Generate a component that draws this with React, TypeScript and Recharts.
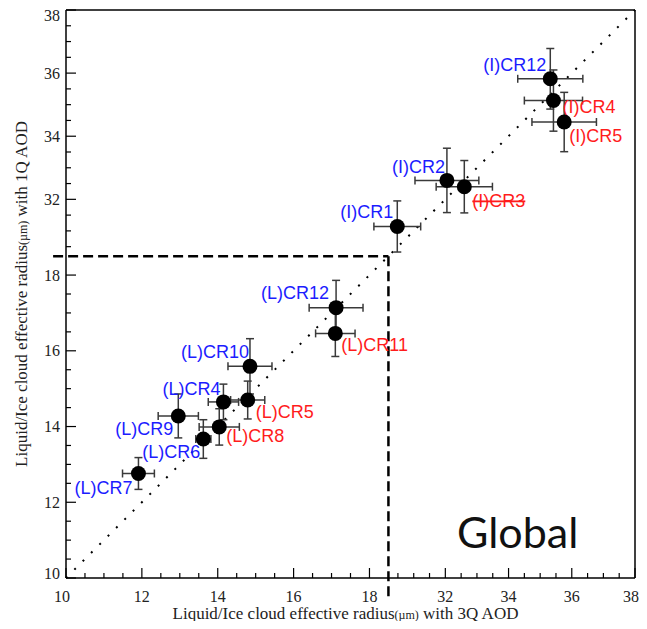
import React from 'react';
import { ScatterChart, Scatter, XAxis, YAxis, ErrorBar, ReferenceLine } from 'recharts';

// liquid cloud regimes (µm), 3Q AOD on x, 1Q AOD on y
const liquidNames = ['(L)CR4', '(L)CR5', '(L)CR6', '(L)CR7', '(L)CR8', '(L)CR9', '(L)CR10', '(L)CR11', '(L)CR12'];
const liquid3Q = [14.15, 14.79, 13.62, 11.91, 14.04, 12.96, 14.85, 17.1, 17.12];
const liquid1Q = [14.65, 14.7, 13.67, 12.76, 13.99, 14.28, 15.59, 16.46, 17.14];
const liquid3QErr = [0.4, 0.45, 0.2, 0.42, 0.53, 0.53, 0.58, 0.52, 0.71];
const liquid1QErr = [0.47, 0.5, 0.51, 0.42, 0.48, 0.58, 0.73, 0.61, 0.72];

// ice cloud regimes
const iceNames = ['(I)CR1', '(I)CR2', '(I)CR3', '(I)CR4', '(I)CR5', '(I)CR12'];
const ice3Q = [30.48, 32.05, 32.6, 35.42, 35.76, 35.32];
const ice1Q = [31.14, 32.6, 32.4, 35.13, 34.45, 35.82];
const ice3QErr = [0.74, 1.01, 0.89, 0.92, 1.02, 1.03];
const ice1QErr = [0.81, 1.02, 0.83, 0.97, 0.94, 0.96];

const majorTicks = [10, 12, 14, 16, 18, 32, 34, 36, 38];
const redLabels = ['(L)CR5', '(L)CR8', '(L)CR11', '(I)CR3', '(I)CR4', '(I)CR5'];
const struckLabels = ['(I)CR3'];

const BLUE = '#1c1cff';
const RED = '#ff1c1c';
const SERIF = '"Liberation Serif", "Times New Roman", serif';
const SANS = '"Liberation Sans", Arial, sans-serif';

// broken axis: liquid 10..18.5, then ice from 30.2 squeezed into the rest
const LIQ_TOP = 18.5;
const ICE_START = 30.2;
const ICE_SCALE = 6.5 / 7.8;
const toAxis = (v: number, ice: boolean) => (ice ? LIQ_TOP + (v - ICE_START) * ICE_SCALE : v);
const fromAxis = (u: number) => (u <= LIQ_TOP + 1e-6 ? u : ICE_START + (u - LIQ_TOP) / ICE_SCALE);
const DOMAIN: [number, number] = [10, toAxis(38, true)];

const TICKS: number[] = [];
for (let v = 10; v <= 18; v += 0.5) TICKS.push(v);
for (let v = 30.5; v <= 38; v += 0.5) TICKS.push(toAxis(v, true));

const points = [
  ...liquidNames.map((name, i) => ({
    name,
    x: liquid3Q[i],
    y: liquid1Q[i],
    ex: liquid3QErr[i],
    ey: liquid1QErr[i],
  })),
  ...iceNames.map((name, i) => ({
    name,
    x: toAxis(ice3Q[i], true),
    y: toAxis(ice1Q[i], true),
    ex: ice3QErr[i] * ICE_SCALE,
    ey: ice1QErr[i] * ICE_SCALE,
  })),
];

// label placement next to each dot: [dx, dy, anchor]
const LABEL_POS: Record<string, [number, number, 'start' | 'end']> = {
  '(I)CR12': [-4, -14, 'end'],
  '(I)CR4': [9, 6, 'start'],
  '(I)CR5': [5, 14, 'start'],
  '(I)CR2': [-2, -13, 'end'],
  '(I)CR3': [8, 14, 'start'],
  '(I)CR1': [-4, -14, 'end'],
  '(L)CR12': [-7, -15, 'end'],
  '(L)CR11': [6, 12, 'start'],
  '(L)CR10': [-1, -14, 'end'],
  '(L)CR4': [-3, -13, 'end'],
  '(L)CR5': [8, 12, 'start'],
  '(L)CR9': [-5, 13, 'end'],
  '(L)CR8': [7, 9, 'start'],
  '(L)CR6': [-3, 13, 'end'],
  '(L)CR7': [-6, 15, 'end'],
};

const makeTick = (side: 'bottom' | 'top' | 'left' | 'right') => (props: any) => {
  const { x, y, payload, index } = props;
  const v = Math.round(fromAxis(payload.value) * 2) / 2;
  const major = majorTicks.includes(v);
  const len = major ? 10 : 5;
  const last = index === TICKS.length - 1;
  const first = index === 0;
  if (side === 'bottom') {
    return (
      <g>
        <line x1={x} y1={y} x2={x} y2={y - len} stroke="#000" strokeWidth={1.2} />
        {major && (
          <text x={x + (first ? -4 : last ? -4 : 0)} y={y + 24} textAnchor="middle" fontFamily={SERIF} fontSize={16} fill="#222">
            {v}
          </text>
        )}
      </g>
    );
  }
  if (side === 'top') {
    return <line x1={x} y1={y} x2={x} y2={y + len} stroke="#000" strokeWidth={1.2} />;
  }
  if (side === 'right') {
    return <line x1={x} y1={y} x2={x - len} y2={y} stroke="#000" strokeWidth={1.2} />;
  }
  return (
    <g>
      <line x1={x} y1={y} x2={x + len} y2={y} stroke="#000" strokeWidth={1.2} />
      {major && (
        <text
          x={x - 6}
          y={y + (last ? 5 : first ? -5 : 0)}
          textAnchor="end"
          dominantBaseline="central"
          fontFamily={SERIF}
          fontSize={16}
          fill="#222"
        >
          {v}
        </text>
      )}
    </g>
  );
};

const renderPoint = (props: any) => {
  const { cx, cy, payload } = props;
  const [dx, dy, anchor] = LABEL_POS[payload.name];
  const red = redLabels.includes(payload.name);
  const struck = struckLabels.includes(payload.name);
  return (
    <g>
      <circle cx={cx} cy={cy} r={7.5} fill="#000" />
      <text
        x={cx + dx}
        y={cy + dy}
        textAnchor={anchor}
        dominantBaseline="central"
        fontFamily={SANS}
        fontSize={18}
        fill={red ? RED : BLUE}
        style={struck ? { textDecoration: 'line-through' } : undefined}
      >
        {payload.name}
      </text>
    </g>
  );
};

const XTitle = (props: any) => {
  const { viewBox } = props;
  return (
    <text x={viewBox.x + viewBox.width / 2 - 5} y={viewBox.y + 41} textAnchor="middle" fontFamily={SERIF} fontSize={17} fill="#222">
      Liquid/Ice cloud effective radius<tspan fontSize={12}>(µm)</tspan> with 3Q AOD
    </text>
  );
};

const YTitle = (props: any) => {
  const { viewBox } = props;
  const cx = 19;
  const cy = viewBox.y + viewBox.height / 2;
  return (
    <text x={cx} y={cy} transform={`rotate(-90 ${cx} ${cy})`} textAnchor="middle" fontFamily={SERIF} fontSize={17} fill="#222">
      Liquid/Ice cloud effective radius<tspan fontSize={12}>(µm)</tspan> with 1Q AOD
    </text>
  );
};

export default function App() {
  const axisLine = { stroke: '#000', strokeWidth: 1.5 };
  return (
    <div style={{ width: 639, height: 613 }}>
      <ScatterChart width={639} height={621} margin={{ top: 1, right: 11, bottom: 1, left: 1 }}>
        <XAxis
          type="number"
          dataKey="x"
          domain={DOMAIN}
          ticks={TICKS}
          interval={0}
          height={50}
          tickSize={0}
          tickMargin={0}
          tickLine={false}
          axisLine={axisLine}
          tick={makeTick('bottom')}
          label={{ content: <XTitle /> }}
        />
        <XAxis
          xAxisId="top"
          orientation="top"
          type="number"
          domain={DOMAIN}
          ticks={TICKS}
          interval={0}
          height={1}
          tickSize={0}
          tickMargin={0}
          tickLine={false}
          axisLine={axisLine}
          tick={makeTick('top')}
        />
        <YAxis
          type="number"
          dataKey="y"
          domain={DOMAIN}
          ticks={TICKS}
          interval={0}
          width={57}
          tickSize={0}
          tickMargin={0}
          tickLine={false}
          axisLine={axisLine}
          tick={makeTick('left')}
          label={{ content: <YTitle /> }}
        />
        <YAxis
          yAxisId="right"
          orientation="right"
          type="number"
          domain={DOMAIN}
          ticks={TICKS}
          interval={0}
          width={1}
          tickSize={0}
          tickMargin={0}
          tickLine={false}
          axisLine={axisLine}
          tick={makeTick('right')}
        />
        <ReferenceLine
          segment={[{ x: 10, y: 10 }, { x: DOMAIN[1], y: DOMAIN[1] }]}
          stroke="#000"
          strokeWidth={2}
          strokeDasharray="2 9.8"
          ifOverflow="visible"
        />
        <ReferenceLine
          segment={[{ x: 9.66, y: LIQ_TOP }, { x: LIQ_TOP, y: LIQ_TOP }]}
          stroke="#000"
          strokeWidth={2.5}
          strokeDasharray="10 5"
          ifOverflow="visible"
        />
        <ReferenceLine
          segment={[{ x: LIQ_TOP, y: LIQ_TOP }, { x: LIQ_TOP, y: 9.47 }]}
          stroke="#000"
          strokeWidth={2.5}
          strokeDasharray="10 5"
          ifOverflow="visible"
        />
        <Scatter data={points} shape={renderPoint} isAnimationActive={false}>
          <ErrorBar dataKey="ex" direction="x" width={4} stroke="#3a3a3a" strokeWidth={1.5} isAnimationActive={false} />
          <ErrorBar dataKey="ey" direction="y" width={4} stroke="#3a3a3a" strokeWidth={1.5} isAnimationActive={false} />
        </Scatter>
        <text x={449} y={540} fontFamily="Lato, 'Open Sans', sans-serif" fontSize={43} fill="#111">
          Global
        </text>
      </ScatterChart>
    </div>
  );
}
